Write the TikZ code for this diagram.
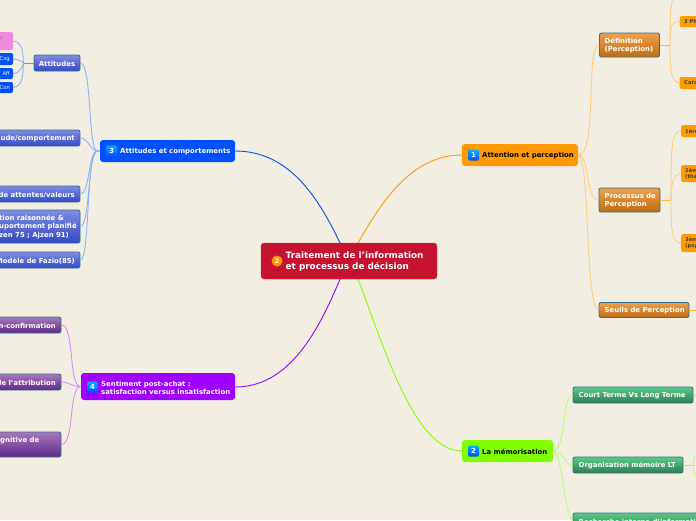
\documentclass[tikz,border=0pt]{standalone}
\usepackage{fontspec}
\setmainfont{DejaVu Sans}
\usepackage{xcolor}
\usetikzlibrary{positioning}
\definecolor{paper}{HTML}{F2EFE2}
\definecolor{rootred}{HTML}{C4122F}
\definecolor{attblue}{HTML}{0050FF}
\definecolor{attorange}{HTML}{FF9A00}
\definecolor{memgreen}{HTML}{80FF00}
\definecolor{satpurple}{HTML}{A000FF}
\definecolor{edgeteal}{HTML}{2F6E8C}
\definecolor{leafpink}{HTML}{F088E0}
\definecolor{bluetop}{HTML}{7F8CE4}
\definecolor{bluebot}{HTML}{3448C4}
\definecolor{orangetop}{HTML}{EEA04C}
\definecolor{orangebot}{HTML}{BE6C14}
\definecolor{greentop}{HTML}{58CC88}
\definecolor{greenbot}{HTML}{2F7E50}
\definecolor{purpletop}{HTML}{A878BC}
\definecolor{purplebot}{HTML}{5F2888}
\tikzset{
  x=1pt, y=-1pt,
  root/.style={fill=rootred, draw=rootred!80, rounded corners=3pt, inner sep=0pt},
  topic/.style={rounded corners=3pt, inner sep=0pt},
  sub/.style={draw=edgeteal, line width=0.8pt, rounded corners=2pt, inner sep=0pt},
  bluesub/.style={sub, top color=bluetop, bottom color=bluebot},
  orangesub/.style={sub, top color=orangetop, bottom color=orangebot},
  greensub/.style={sub, top color=greentop, bottom color=greenbot},
  purplesub/.style={sub, top color=purpletop, bottom color=purplebot},
  leaf/.style={rounded corners=2pt, inner sep=0pt},
  lab/.style={font=\fontsize{6.9}{8.5}\selectfont\bfseries, inner sep=0pt, align=left, yshift=-0.7pt},
  wlab/.style={lab, text=white},
  tiny/.style={font=\fontsize{5.2}{6.4}\selectfont\bfseries, inner sep=0pt, align=left},
  tinyw/.style={font=\fontsize{5.2}{6.4}\selectfont, inner sep=0pt, text=white},
  badge/.style={top color=cyan!70!blue, bottom color=blue!70!cyan, rounded corners=1.5pt, minimum size=11pt, inner sep=0pt, text=white, font=\fontsize{7}{8}\selectfont\bfseries},
  branch/.style={line width=0.9pt, line cap=round},
  twig/.style={line width=0.9pt, line cap=round}
}
\begin{document}
\begin{tikzpicture}
  \useasboundingbox (0,0) rectangle (696,520);
  \clip (0,0) rectangle (696,520);
  \fill[paper] (0,0) rectangle (696,520);

  % main branches
  \draw[branch, attblue] (340,243) .. controls (315,190) and (285,151) .. (235,151);
  \draw[branch, attorange] (358,243) .. controls (385,195) and (415,155) .. (462,155);
  \draw[branch, satpurple] (340,279) .. controls (315,340) and (285,387) .. (235,387);
  \draw[branch, memgreen] (358,279) .. controls (385,350) and (415,451) .. (462,451);

  % first level boxes
  \node[topic, fill=attblue, minimum width=135pt, minimum height=22pt] (attitudes) at (167.5,151) {};
  \node[topic, fill=satpurple, minimum width=154pt, minimum height=27pt] (sentiment) at (158,386.5) {};
  \node[topic, fill=attorange, minimum width=116pt, minimum height=22pt] (attention) at (520,155) {};
  \node[topic, fill=memgreen, minimum width=91pt, minimum height=22pt] (memoire) at (507.5,451) {};

  \node[root, minimum width=176pt, minimum height=36pt] (traitement) at (349,261) {};
  \node[circle, fill=attorange, minimum size=11pt, inner sep=0pt, text=white, font=\fontsize{6.5}{8}\selectfont\bfseries] (icon0) at (277,261) {2};
  \node[lab, text=white, font=\fontsize{8.85}{11}\selectfont\bfseries, anchor=west] (troot) at (285.5,261) {Traitement de l'information\\et processus de décision};

  \node[badge] (icon3) at (111.5,151) {3};
  \node[wlab, anchor=west] (t3) at (120,151) {Attitudes et comportements};
  \node[badge] (icon4) at (92.5,387) {4};
  \node[wlab, anchor=west] (t4) at (101,387) {Sentiment post-achat :\\satisfaction versus insatisfaction};
  \node[badge] (icon1) at (473.5,155) {1};
  \node[lab, anchor=west] (t1) at (482,155) {Attention et perception};
  \node[badge] (icon2) at (473.5,451) {2};
  \node[lab, anchor=west] (t2) at (482,451) {La mémorisation};

  % left blue side
  \node[bluesub, minimum width=46pt, minimum height=16pt] (attbox) at (57,63) {};
  \node[wlab] (tattbox) at (attbox) {Attitudes};
  \node[bluesub, minimum width=100pt, minimum height=16pt] (modele) at (30,138) {};
  \node[wlab, anchor=east] (tmodele) at (75,138) {ude/comportement};
  \node[bluesub, minimum width=100pt, minimum height=16pt] (attentes) at (30,194) {};
  \node[wlab, anchor=east] (tattentes) at (75,194) {de attentes/valeurs};
  \node[bluesub, minimum width=100pt, minimum height=33pt] (raison) at (30,226.5) {};
  \node[wlab, anchor=north west] (traison) at (-1,214) {tion raisonnée \&\\uportement planifié\\zen 75 ; Ajzen 91)};
  \node[bluesub, minimum width=100pt, minimum height=16pt] (fazio) at (30,260) {};
  \node[wlab, anchor=east] (tfazio) at (75,260) {Modèle de Fazio(85)};

  % leaves of attitudes
  \node[leaf, fill=leafpink, minimum width=30pt, minimum height=18pt] (pink) at (-2,41) {};
  \node[tinyw, text=black!50, anchor=east] (tpink) at (3,38) {u};
  \node[leaf, fill=attblue, minimum width=30pt, minimum height=12pt] (cog) at (-2,59) {};
  \node[tinyw, anchor=east] (tcog) at (10,59) {Cog};
  \node[leaf, fill=attblue, minimum width=30pt, minimum height=11pt] (aff) at (-2,73.5) {};
  \node[tinyw, anchor=east] (taff) at (10,73.5) {Aff};
  \node[leaf, fill=attblue, minimum width=30pt, minimum height=11pt] (con) at (-2,87.5) {};
  \node[tinyw, anchor=east] (tcon) at (10,87.5) {Con};

  \begin{scope}[twig, draw=attblue!45!white]
    \draw (attitudes.west) -- (97,151) .. controls (88,150) and (92,64) .. (attbox.east);
    \draw (attitudes.west) -- (97,151) .. controls (90,150) and (88,138) .. (modele.east);
    \draw (attitudes.west) -- (97,151) .. controls (88,152) and (90,194) .. (attentes.east);
    \draw (attitudes.west) -- (97,151) .. controls (88,152) and (90,226) .. (raison.east);
    \draw (attitudes.west) -- (97,151) .. controls (86,152) and (90,260) .. (fazio.east);
    \draw (pink.east) .. controls (26,42) and (22,63) .. (24,63);
    \draw (cog.east) .. controls (20,59) and (22,63) .. (24,63);
    \draw (aff.east) .. controls (22,73) and (23,63) .. (24,63);
    \draw (con.east) .. controls (26,87) and (22,63) .. (24,63);
  \end{scope}
  \draw[line width=1pt, attblue!60!white] (24,63) -- (attbox.west);

  % left purple side
  \node[purplesub, minimum width=80pt, minimum height=16pt] (confirm) at (21,325) {};
  \node[wlab, anchor=east] (tconfirm) at (56,325) {n-confirmation};
  \node[purplesub, minimum width=80pt, minimum height=16pt] (attrib) at (21,382) {};
  \node[wlab, anchor=east] (tattrib) at (56,382) {de l'attribution};
  \node[purplesub, minimum width=80pt, minimum height=25pt] (cognit) at (21,444.5) {};
  \node[wlab, anchor=west] (tcognit) at (0,440) {gnitive de};
  \begin{scope}[twig, draw=satpurple!45!white]
    \draw (sentiment.west) .. controls (68,387) and (75,325) .. (confirm.east);
    \draw (sentiment.west) .. controls (72,387) and (70,382) .. (attrib.east);
    \draw (sentiment.west) .. controls (68,387) and (75,444) .. (cognit.east);
  \end{scope}

  % right orange side
  \node[orangesub, minimum width=60pt, minimum height=24pt] (defin) at (629.5,45) {};
  \node[wlab, anchor=west] (tdefin) at (604.5,45) {Définition\\(Perception)};
  \node[orangesub, minimum width=61pt, minimum height=24pt] (process) at (629.5,200) {};
  \node[wlab, anchor=west] (tprocess) at (604.5,200) {Processus de\\Perception};
  \node[orangesub, minimum width=90pt, minimum height=15pt] (seuils) at (644,310) {};
  \node[wlab, anchor=west] (tseuils) at (604.5,310) {Seuils de Perception};
  \begin{scope}[twig, draw=attorange!50!white]
    \draw (attention.east) .. controls (598,155) and (585,45) .. (defin.west);
    \draw (attention.east) .. controls (590,155) and (585,200) .. (process.west);
    \draw (attention.east) .. controls (590,155) and (585,310) .. (seuils.west);
  \end{scope}

  % leaves of the orange side
  \node[leaf, fill=attorange, minimum width=30pt, minimum height=11pt, anchor=west] (phases) at (679.5,21.5) {};
  \node[tiny, anchor=west, text=black!75] (tphases) at (684,21.5) {3 Ph};
  \node[leaf, fill=attorange, minimum width=30pt, minimum height=12pt, anchor=west] (carac) at (679.5,83) {};
  \node[tiny, anchor=west, text=black!75] (tcarac) at (684,83) {Cara};
  \node[leaf, fill=attorange, minimum width=30pt, minimum height=12pt, anchor=west] (etape1) at (681,131) {};
  \node[tiny, anchor=west, text=black!75] (tetape1) at (685,131) {1ère};
  \node[leaf, fill=attorange, minimum width=30pt, minimum height=17pt, anchor=west] (etape2) at (681,173.5) {};
  \node[tiny, anchor=west, text=black!75] (tetape2) at (685,173.5) {2èm\\(thé};
  \node[leaf, fill=attorange, minimum width=30pt, minimum height=18pt, anchor=west] (etape3) at (681,243) {};
  \node[tiny, anchor=west, text=black!75] (tetape3) at (685,243) {3èm\\(psy};
  \coordinate (hubdef) at (670,45);
  \coordinate (hubproc) at (671,200);
  \coordinate (offtop) at (673,-3);
  \begin{scope}[twig, draw=attorange!50!white]
    \draw (hubdef) .. controls (670,20) and (670,10) .. (offtop);
    \draw (hubdef) .. controls (670,30) and (670,21.5) .. (phases.west);
    \draw (hubdef) .. controls (670,65) and (670,83) .. (carac.west);
    \draw (hubproc) .. controls (671,150) and (671,131) .. (etape1.west);
    \draw (hubproc) .. controls (671,185) and (673,173.5) .. (etape2.west);
    \draw (hubproc) .. controls (671,225) and (671,243) .. (etape3.west);
  \end{scope}
  \draw[line width=1pt, attorange!75!white] (defin.east) -- (hubdef);
  \draw[line width=1pt, attorange!75!white] (process.east) -- (hubproc);
  \coordinate (offseuils) at (698,310);
  \draw[line width=1pt, attorange!75!white] (seuils.east) -- (offseuils);

  % right green side
  \node[greensub, minimum width=120pt, minimum height=16pt] (court) at (633,395) {};
  \node[wlab, anchor=west] (tcourt) at (578.5,395) {Court Terme Vs Long Terme};
  \node[greensub, minimum width=110pt, minimum height=16pt] (organ) at (628,465) {};
  \node[wlab, anchor=west] (torgan) at (578.5,464.5) {Organisation mémoire LT};
  \node[greensub, minimum width=140pt, minimum height=16pt] (recherche) at (643,521) {};
  \node[wlab, anchor=west] (trecherche) at (578.5,521) {Recherche interne d'informati};
  \begin{scope}[twig, draw=memgreen!55!white]
    \draw (memoire.east) .. controls (566,451) and (562,395) .. (court.west);
    \draw (memoire.east) .. controls (563,451) and (565,465) .. (organ.west);
    \draw (memoire.east) .. controls (562,451) and (564,513) .. (recherche.west);
  \end{scope}
  \coordinate (offcourt) at (698,395);
  \coordinate (hubmem) at (694,465);
  \coordinate (offmemup) at (698,454);
  \coordinate (offmemdown) at (698,479);
  \draw[line width=1pt, memgreen!80!white] (court.east) -- (offcourt);
  \draw[line width=1pt, memgreen!80!white] (organ.east) -- (hubmem);
  \draw[twig, memgreen!55!white] (offmemup) .. controls (694,456) and (693,460) .. (hubmem) .. controls (693,470) and (694,476) .. (offmemdown);
\end{tikzpicture}
\end{document}
